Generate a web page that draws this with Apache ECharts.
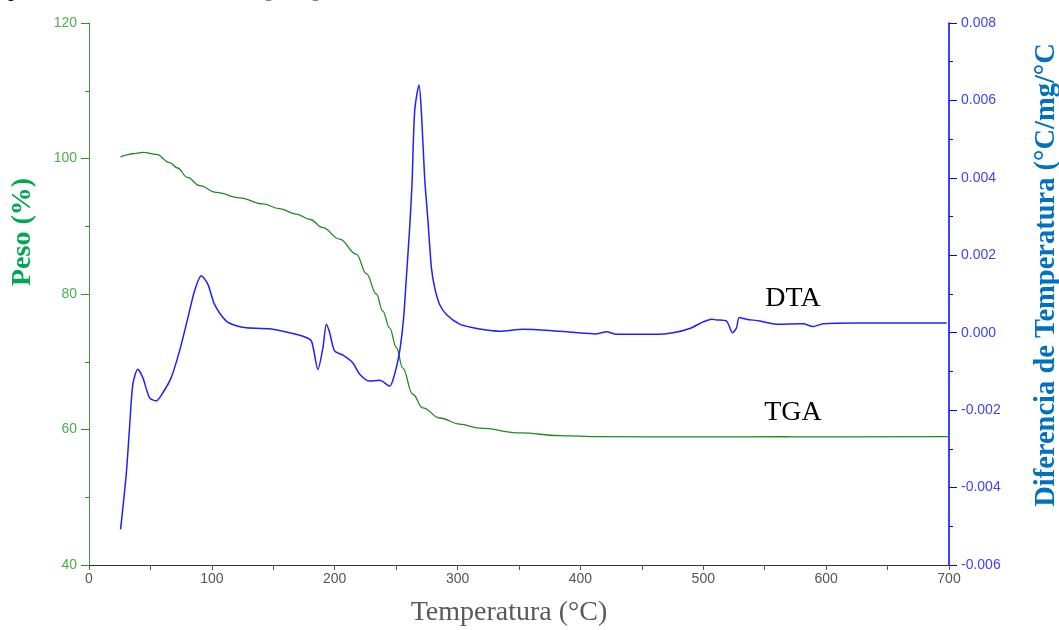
<!DOCTYPE html>
<html>
<head>
<meta charset="utf-8">
<script src="https://cdn.jsdelivr.net/npm/echarts@6/dist/echarts.min.js"></script>
<style>
html,body{margin:0;padding:0;background:#fff;}
#chart{width:1059px;height:630px;}
</style>
</head>
<body>
<div id="chart"></div>
<script>
// Temperature ticks (°C)
const xTicks = [0, 100, 200, 300, 400, 500, 600, 700];

// TGA: temperature (°C) and weight (%)
const tgaTemp = [25.7, 30, 35, 44, 55, 65.6, 72, 80.2, 90, 103.6, 122.6, 141.3, 155, 168.7, 180, 190.2, 204, 217.6, 225.8, 233.9, 239, 244.7, 250.2, 255.3, 263.5, 271.6, 285.5, 301.7, 318, 351, 383, 416, 497, 567, 579, 700];
const tgaWeight = [100.2, 100.5, 100.7, 100.9, 100.6, 99.4, 98.6, 97.2, 96.0, 95.0, 94.2, 93.3, 92.6, 91.8, 91.0, 89.8, 88.1, 85.9, 83.0, 80.0, 77.5, 75.0, 72.1, 69.1, 65.2, 63.2, 61.7, 60.8, 60.2, 59.5, 59.1, 58.95, 58.9, 58.95, 58.9, 58.95];

// DTA: temperature (°C) and temperature difference (°C/mg/°C)
const dtaTemp = [25.7, 30.3, 33.0, 35.7, 39.7, 43.8, 49.3, 54.7, 60.1, 66.9, 73.7, 80.5, 85.9, 91.4, 96.8, 102.2, 111.7, 120, 128.0, 147.0, 163.3, 174.1, 181.0, 186.3, 190.4, 193.2, 195.9, 199.9, 206.7, 214.8, 220.3, 228.4, 236.6, 244.7, 248.8, 252.9, 256.1, 258.3, 261.0, 262.9, 265.1, 268.6, 270.5, 273.2, 275.9, 278.7, 281.4, 285.4, 290.9, 301.7, 312.6, 323.5, 334.3, 353.3, 375.0, 394.0, 413.1, 421.2, 429.3, 461.9, 475.4, 489.0, 499.9, 506.7, 510.8, 518.9, 523.8, 527.1, 529.2, 535.2, 546.1, 559.6, 581.3, 589.4, 597.6, 624.8, 698.1];
const dtaDiff = [-0.00508, -0.00366, -0.00245, -0.00133, -0.000945, -0.00116, -0.00168, -0.00176, -0.00155, -0.00116, -0.00047, 0.00039, 0.00108, 0.00147, 0.00125, 0.00073, 0.00030, 0.00018, 0.00013, 0.00010, 0.0000, -0.00009, -0.00021, -0.00095, -0.00039, 0.00022, 0.0000, -0.00047, -0.00058, -0.00078, -0.00107, -0.00125, -0.00123, -0.00138, -0.00107, -0.00047, 0.00039, 0.00142, 0.00271, 0.00383, 0.00573, 0.0064, 0.00573, 0.0040, 0.00289, 0.00168, 0.00116, 0.00073, 0.00047, 0.00022, 0.00013, 0.00007, 0.00004, 0.00009, 0.00006, 0.00001, -0.00003, 0.000025, -0.00004, -0.00004, 0.0000, 0.00011, 0.00028, 0.00035, 0.00033, 0.00030, 0.0000, 0.00013, 0.00039, 0.00035, 0.00030, 0.00022, 0.00023, 0.00016, 0.00023, 0.00025, 0.00025];

const tgaData = tgaTemp.map((t, i) => [t, tgaWeight[i]]);
const dtaData = dtaTemp.map((t, i) => [t, dtaDiff[i]]);

const chart = echarts.init(document.getElementById('chart'), null, {renderer: 'canvas'});
const serif = '"Liberation Serif", "Times New Roman", serif';
const sans = '"Liberation Sans", Arial, sans-serif';

chart.setOption({
  animation: false,
  backgroundColor: '#ffffff',
  grid: {left: 89, right: 110, top: 23, bottom: 65, containLabel: false},
  xAxis: {
    type: 'value', min: xTicks[0], max: xTicks[xTicks.length - 1], interval: 100,
    axisLine: {show: true, onZero: false, lineStyle: {color: '#333333', width: 1}},
    axisTick: {show: true, length: 5, lineStyle: {color: '#555555'}},
    minorTick: {show: true, splitNumber: 2, length: 5, lineStyle: {color: '#555555'}},
    axisLabel: {color: '#555555', fontSize: 14, fontFamily: sans, margin: 7},
    splitLine: {show: false}
  },
  yAxis: [
    {
      type: 'value', position: 'left', min: 40, max: 120, interval: 20,
      axisLine: {show: true, onZero: false, lineStyle: {color: '#3c9c3c', width: 1}},
      axisTick: {show: true, length: 8, lineStyle: {color: '#2e8b2e'}},
      minorTick: {show: true, splitNumber: 2, length: 4, lineStyle: {color: '#2e8b2e'}},
      axisLabel: {color: '#4cae4c', fontSize: 14, fontFamily: sans, margin: 12},
      splitLine: {show: false}
    },
    {
      type: 'value', position: 'right', min: -0.006, max: 0.008, interval: 0.002,
      axisLine: {show: true, onZero: false, lineStyle: {color: '#0000ff', width: 1.5}},
      axisTick: {show: true, length: 8, lineStyle: {color: '#0000ff'}},
      minorTick: {show: true, splitNumber: 2, length: 4, lineStyle: {color: '#0000ff'}},
      axisLabel: {color: '#4040ff', fontSize: 14, fontFamily: sans, margin: 12,
        formatter: v => (Math.abs(v) < 1e-9 ? 0 : v).toFixed(3)},
      splitLine: {show: false}
    }
  ],
  series: [
    {
      name: 'TGA', type: 'line', yAxisIndex: 0, data: tgaData,
      symbol: 'none', smooth: 0.4, smoothMonotone: 'x',
      lineStyle: {color: '#1f8a1f', width: 1.3}
    },
    {
      name: 'DTA', type: 'line', yAxisIndex: 1, data: dtaData,
      symbol: 'none', smooth: 0.25,
      lineStyle: {color: '#2020ff', width: 1.5}
    }
  ],
  graphic: [
    {type: 'text', x: 793, y: 299, style: {text: 'DTA', font: '28px ' + serif, fill: '#000', align: 'center', verticalAlign: 'middle'}},
    {type: 'text', x: 793, y: 413, style: {text: 'TGA', font: '28px ' + serif, fill: '#000', align: 'center', verticalAlign: 'middle'}},
    {type: 'text', x: 509, y: 613, style: {text: 'Temperatura (°C)', font: '28px ' + serif, fill: '#595959', align: 'center', verticalAlign: 'middle'}},
    {type: 'text', x: 23, y: 232, rotation: Math.PI / 2, style: {text: 'Peso (%)', font: 'bold 28px ' + serif, fill: '#00a650', align: 'center', verticalAlign: 'middle'}},
    {type: 'text', x: 1047, y: 275, rotation: Math.PI / 2, style: {text: 'Diferencia de Temperatura (°C/mg/°C', font: 'bold 28.5px ' + serif, fill: '#0070c0', align: 'center', verticalAlign: 'middle'}},
    {type: 'text', x: 8, y: 2, style: {text: 'p', font: '24px ' + serif, fill: '#000', align: 'left', verticalAlign: 'bottom'}},
    {type: 'text', x: 264, y: 3, style: {text: '[', font: '24px ' + serif, fill: '#000', align: 'left', verticalAlign: 'bottom'}},
    {type: 'text', x: 312, y: 3, style: {text: ']', font: '24px ' + serif, fill: '#000', align: 'left', verticalAlign: 'bottom'}}
  ]
});
</script>
</body>
</html>
